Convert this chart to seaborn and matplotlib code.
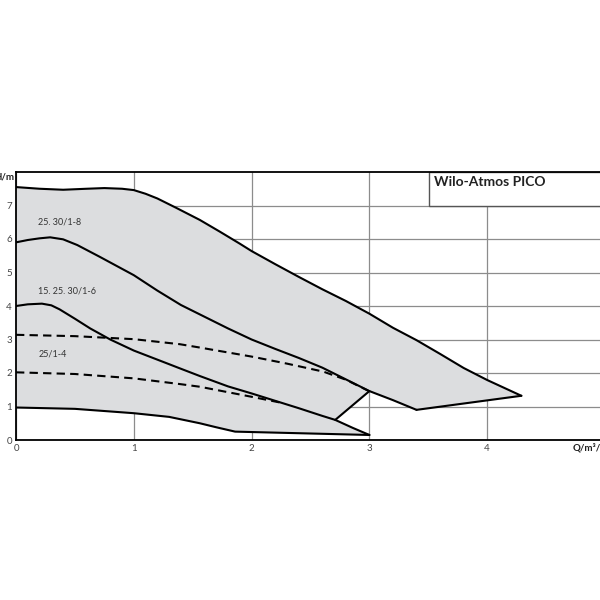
import numpy as np
import pandas as pd
import matplotlib
matplotlib.use("Agg")
import matplotlib.pyplot as plt
from matplotlib.patches import Rectangle
import seaborn as sns

# pump curves, Q in m3/h, H in m
q_max = [0, 0.2, 0.4, 0.6, 0.75, 0.9, 1.0, 1.1, 1.2, 1.36, 1.56, 1.73, 1.9, 2.0, 2.2, 2.4, 2.6, 2.8, 3.0,
         3.2, 3.4, 3.6, 3.8, 4.0, 4.29]
h_max = [7.55, 7.5, 7.47, 7.5, 7.52, 7.5, 7.46, 7.35, 7.21, 6.93, 6.57, 6.22, 5.86, 5.64, 5.25, 4.87, 4.5,
         4.15, 3.77, 3.35, 2.98, 2.57, 2.15, 1.79, 1.32]

q_6 = [0, 0.1, 0.2, 0.29, 0.4, 0.52, 0.71, 1.0, 1.2, 1.4, 1.6, 1.8, 2.0, 2.2, 2.4, 2.6, 2.8, 3.0, 3.2, 3.4]
h_6 = [5.9, 5.97, 6.02, 6.05, 5.99, 5.82, 5.47, 4.92, 4.46, 4.03, 3.68, 3.33, 3.0, 2.72, 2.45, 2.16, 1.81,
       1.46, 1.19, 0.90]

q_4 = [0, 0.1, 0.22, 0.3, 0.37, 0.5, 0.63, 0.8, 1.0, 1.28, 1.39, 1.56, 1.8, 2.0, 2.2, 2.4, 2.6, 2.71, 2.86, 3.0]
h_4 = [4.0, 4.05, 4.07, 4.02, 3.9, 3.62, 3.33, 3.0, 2.67, 2.29, 2.14, 1.91, 1.6, 1.39, 1.17, 0.95, 0.72,
       0.60, 0.36, 0.15]

q_d3 = [0, 0.5, 1.0, 1.39, 1.56, 2.0, 2.3, 2.61, 2.8, 2.99]
h_d3 = [3.14, 3.10, 3.01, 2.86, 2.76, 2.49, 2.28, 2.04, 1.80, 1.47]

q_d2 = [0, 0.5, 1.0, 1.39, 1.56, 2.0, 2.24]
h_d2 = [2.02, 1.97, 1.84, 1.67, 1.59, 1.29, 1.12]

q_min = [0, 0.5, 1.0, 1.3, 1.56, 1.7, 1.86, 3.0]
h_min = [0.97, 0.93, 0.80, 0.69, 0.50, 0.38, 0.25, 0.15]

# closing segments of the envelope
q_edge = [4.29, 3.40]
h_edge = [1.32, 0.90]
q_link = [3.0, 2.71]
h_link = [1.46, 0.60]

labels = ["25. 30/1-8", "15. 25. 30/1-6", "25/1-4"]
label_h = [6.52, 4.45, 2.56]

sns.set_style("white")
plt.rcParams['font.family'] = ['Lato', 'DejaVu Sans']

fig = plt.figure(figsize=(6, 6), dpi=100)
ax = fig.add_axes([16 / 600, 160 / 600, 589 / 600, 268 / 600])

# shaded operating range
poly_q = list(q_max) + list(q_edge[1:])
poly_h = list(h_max) + list(h_edge[1:])
for q, h in zip(q_6[::-1], h_6[::-1]):
    if 3.0 <= q < 3.4:
        poly_q.append(q)
        poly_h.append(h)
poly_q.append(q_link[1])
poly_h.append(h_link[1])
for q, h in zip(q_4, h_4):
    if q > 2.71:
        poly_q.append(q)
        poly_h.append(h)
poly_q += q_min[::-1]
poly_h += h_min[::-1]
ax.fill(poly_q, poly_h, color="#dcdddf", zorder=1, lw=0)

solid = [(q_max, h_max), (q_6, h_6), (q_4, h_4), (q_min, h_min), (q_edge, h_edge), (q_link, h_link)]
for q, h in solid:
    sns.lineplot(x=q, y=h, ax=ax, color="black", lw=1.5, sort=False, estimator=None, zorder=3)
for q, h in [(q_d3, h_d3), (q_d2, h_d2)]:
    sns.lineplot(x=q, y=h, ax=ax, color="black", lw=1.5, sort=False, estimator=None,
                 linestyle=(0, (4, 2.5)), zorder=3)

for lab, y in zip(labels, label_h):
    ax.text(0.19, y, lab, fontsize=6.5, color="#333333", va="center", ha="left", zorder=4)

ax.set_xlim(0, 5)
ax.set_ylim(0, 8)
ax.set_xticks([0, 1, 2, 3, 4])
ax.set_yticks(range(0, 8))
ax.grid(True, color="#8c8c8c", lw=0.9, zorder=0)
ax.set_axisbelow(True)
ax.tick_params(length=0, labelsize=7, labelcolor="#444444", pad=3)
for s in ["left", "bottom", "top"]:
    ax.spines[s].set_color("black")
    ax.spines[s].set_linewidth(1.3)
ax.spines["right"].set_visible(False)
ax.set_xlabel("")
ax.set_ylabel("")

# title box
ax.add_patch(Rectangle((3.51, 7.0), 2.0, 1.0, facecolor="white", edgecolor="#555555", lw=1.0, zorder=2))
ax.text(3.55, 7.7, "Wilo-Atmos PICO", fontsize=10, fontweight="bold", color="#222222", va="center", ha="left", zorder=4)

# axis names sit at the figure edges as in the original sheet
fig.text(14 / 600, 1 - 177 / 600, "H/m", fontsize=7, fontweight="bold", ha="right", va="center", color="#222222")
fig.text(573 / 600, 1 - 448 / 600, "Q/m³/h", fontsize=7, fontweight="bold", ha="left", va="center", color="#222222")

fig.savefig("out.png", dpi=100, facecolor="white")
